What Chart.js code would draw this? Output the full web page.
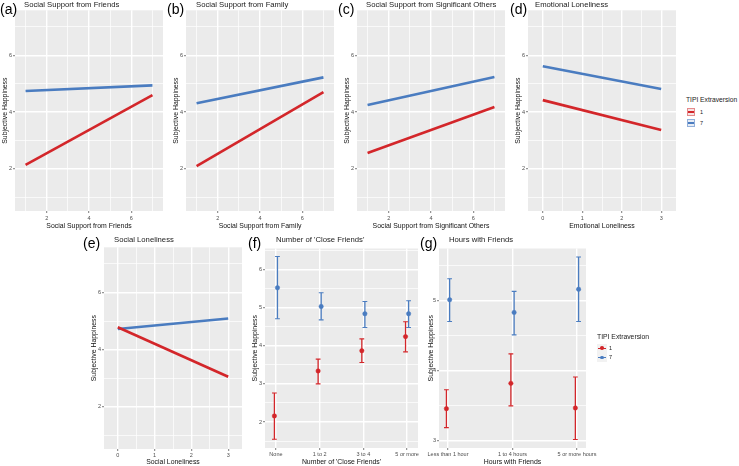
<!DOCTYPE html>
<html><head><meta charset="utf-8">
<script src="https://cdn.jsdelivr.net/npm/chart.js@4.4.0/dist/chart.umd.min.js"></script>
<style>
body{margin:0;width:739px;height:466px;background:#fff;position:relative;overflow:hidden;font-family:'Liberation Sans',Arial,sans-serif}
canvas{position:absolute}
.t{position:absolute;white-space:nowrap;color:#1a1a1a;line-height:1.2}
.k{position:absolute;box-sizing:border-box}
</style></head><body>
<script>
// ---------- DATA ----------
const extraversionLevels = ['1', '7'];
const topYTicks = [2, 4, 6];
const supportX = [1, 7];
const supportXTicks = [2, 4, 6];
const lonelyX = [0, 3];
const lonelyXTicks = [0, 1, 2, 3];

const friendsLow  = [2.14, 4.60];
const friendsHigh = [4.74, 4.94];
const familyLow   = [2.10, 4.70];
const familyHigh  = [4.31, 5.22];
const sigOtherLow = [2.56, 4.18];
const sigOtherHigh= [4.25, 5.23];
const emoLow      = [4.42, 3.37];
const emoHigh     = [5.61, 4.81];
const socLow      = [4.78, 3.05];
const socHigh     = [4.72, 5.09];

const closeCats = ['None', '1 to 2', '3 to 4', '5 or more'];
const closeYTicks = [2, 3, 4, 5, 6];
const closeLowMean = [2.16, 3.34, 3.87, 4.24];
const closeLowLo   = [1.55, 3.00, 3.56, 3.84];
const closeLowHi   = [2.76, 3.65, 4.18, 4.63];
const closeHighMean= [5.52, 5.03, 4.84, 4.84];
const closeHighLo  = [4.71, 4.68, 4.48, 4.48];
const closeHighHi  = [6.34, 5.39, 5.16, 5.18];

const hoursCats = ['Less than 1 hour', '1 to 4 hours', '5 or more hours'];
const hoursYTicks = [3, 4, 5];
const hoursLowMean = [3.46, 3.82, 3.47];
const hoursLowLo   = [3.19, 3.50, 3.02];
const hoursLowHi   = [3.73, 4.24, 3.91];
const hoursHighMean= [5.01, 4.83, 5.16];
const hoursHighLo  = [4.70, 4.51, 4.70];
const hoursHighHi  = [5.31, 5.13, 5.62];

// ---------- STYLE ----------
const C_RED = '#d3262a', C_BLUE = '#4a7cc0';
const FONT = "'Liberation Sans', Arial, sans-serif";
Chart.defaults.font.family = FONT;

const bgPlugin = {
  id: 'panelBg',
  beforeDraw(chart) {
    const a = chart.chartArea, c = chart.ctx;
    c.save(); c.fillStyle = '#ebebeb';
    c.fillRect(a.left, a.top, a.right - a.left, a.bottom - a.top);
    c.restore();
  }
};

function range(a, b, s) { const r = []; for (let v = a; v <= b + 1e-9; v += s) r.push(Math.round(v * 1000) / 1000); return r; }
const isIn = (arr, v) => arr.some(m => Math.abs(m - v) < 1e-6);

function axis(o) {
  return {
    type: 'linear', min: o.min, max: o.max,
    afterBuildTicks: s => { s.ticks = o.grid.map(v => ({ value: v })); },
    afterFit: s => { if (o.w !== undefined) s.width = o.w; if (o.h !== undefined) s.height = o.h; },
    ticks: {
      autoSkip: false, maxRotation: 0, minRotation: 0, padding: o.tickPad,
      font: { size: 5.5 }, color: '#4d4d4d',
      callback: v => isIn(o.major, v) ? o.label(v) : ''
    },
    grid: {
      drawTicks: true, tickLength: 2, tickWidth: 0.7,
      color: '#ffffff',
      lineWidth: ctx => isIn(o.major, ctx.tick.value) ? 1.4 : 0.7,
      tickColor: ctx => isIn(o.major, ctx.tick.value) ? '#444' : 'rgba(0,0,0,0)'
    },
    border: { display: false },
    title: { display: true, text: o.title, font: { size: 6.9 }, color: '#111', padding: o.titlePad }
  };
}

function panel(p) {
  const padTop = 4, padRight = p.padRight || 6;
  const [x0, y0, x1, y1] = p.area;
  const left = x0 - p.yW, top = y0 - padTop;
  const W = (x1 - x0) + p.yW + padRight, H = p.bottom - top;
  const cv = document.createElement('canvas');
  cv.width = W; cv.height = H;
  cv.style.left = left + 'px'; cv.style.top = top + 'px';
  cv.style.width = W + 'px'; cv.style.height = H + 'px';
  document.body.appendChild(cv);
  new Chart(cv, {
    type: 'line',
    data: { datasets: p.datasets },
    options: {
      responsive: false, animation: false, devicePixelRatio: 1,
      layout: { padding: { top: padTop, right: padRight, left: 0, bottom: 0 } },
      plugins: { legend: { display: false }, tooltip: { enabled: false } },
      scales: {
        x: axis({ min: p.xMin, max: p.xMax, grid: p.xGrid, major: p.xMajor, label: p.xLabel,
                  h: p.bottom - y1, tickPad: p.xTickPad, title: p.xTitle, titlePad: { top: 0, bottom: p.xTitleBottom } }),
        y: axis({ min: p.yMin, max: p.yMax, grid: p.yGrid, major: p.yMajor, label: v => String(v),
                  w: p.yW, tickPad: 1, title: p.yTitle, titlePad: { top: p.yTitleTop, bottom: 0 } })
      }
    },
    plugins: [bgPlugin]
  });
}

function lineSets(xs, low, high) {
  return [
    { label: extraversionLevels[0], data: xs.map((x, i) => ({ x, y: low[i] })), borderColor: C_RED, borderWidth: 2.6, pointRadius: 0, tension: 0 },
    { label: extraversionLevels[1], data: xs.map((x, i) => ({ x, y: high[i] })), borderColor: C_BLUE, borderWidth: 2.6, pointRadius: 0, tension: 0 }
  ];
}

function pointRangeSets(n, mean, lo, hi, color, dodge) {
  const bars = [];
  for (let i = 0; i < n; i++) {
    const x = i + 1 + dodge;
    bars.push({ x, y: lo[i] }, { x, y: hi[i] }, { x, y: null });
  }
  return [
    { data: bars, borderColor: color, borderWidth: 1.3, spanGaps: false, tension: 0,
      pointStyle: 'line', pointRadius: 2.4, pointBorderWidth: 1.1, pointBorderColor: color, pointHoverRadius: 0 },
    { data: mean.map((m, i) => ({ x: i + 1 + dodge, y: m })), showLine: false,
      pointStyle: 'circle', pointRadius: 2.2, pointBackgroundColor: color, pointBorderColor: color, pointBorderWidth: 0.5 }
  ];
}

// ---------- PANELS ----------
const topCommon = {
  yW: 15, yTitleTop: 0.8, bottom: 233, xTickPad: 2, xTitleBottom: 2.6,
  yMin: 0.52, yMax: 7.58, yGrid: range(1, 7, 1), yMajor: topYTicks, yTitle: 'Subjective Happiness'
};
const supportAxis = { xMin: 0.5, xMax: 7.5, xGrid: range(1, 7, 1), xMajor: supportXTicks, xLabel: v => String(v) };
const lonelyAxis = { xMin: -0.375, xMax: 3.375, xGrid: range(0, 3, 0.5), xMajor: lonelyXTicks, xLabel: v => String(v) };

panel(Object.assign({}, topCommon, supportAxis, { area: [15, 10, 163, 211], xTitle: 'Social Support from Friends', datasets: lineSets(supportX, friendsLow, friendsHigh) }));
panel(Object.assign({}, topCommon, supportAxis, { area: [186, 10, 334, 211], xTitle: 'Social Support from Family', datasets: lineSets(supportX, familyLow, familyHigh) }));
panel(Object.assign({}, topCommon, supportAxis, { area: [357, 10, 505, 211], xTitle: 'Social Support from Significant Others', datasets: lineSets(supportX, sigOtherLow, sigOtherHigh) }));
panel(Object.assign({}, topCommon, lonelyAxis, { area: [528, 10, 676, 211], xTitle: 'Emotional Loneliness', datasets: lineSets(lonelyX, emoLow, emoHigh) }));

panel(Object.assign({}, topCommon, lonelyAxis, { area: [104, 247, 242, 449], bottom: 466, xTickPad: 1, xTitleBottom: 0, xTitle: 'Social Loneliness', datasets: lineSets(lonelyX, socLow, socHigh) }));

panel({
  area: [265, 248, 418, 448], bottom: 466, yW: 15, yTitleTop: 0.8, xTickPad: 1, xTitleBottom: 0,
  xMin: 0.75, xMax: 4.25, xGrid: [1, 2, 3, 4], xMajor: [1, 2, 3, 4], xLabel: v => closeCats[v - 1],
  yMin: 1.32, yMax: 6.55, yGrid: range(1.5, 6.5, 0.5), yMajor: closeYTicks,
  xTitle: "Number of 'Close Friends'", yTitle: 'Subjective Happiness',
  datasets: pointRangeSets(4, closeLowMean, closeLowLo, closeLowHi, C_RED, -0.035)
    .concat(pointRangeSets(4, closeHighMean, closeHighLo, closeHighHi, C_BLUE, 0.035))
});

panel({
  area: [439, 248, 586, 448], bottom: 466, yW: 15, yTitleTop: 2.5, xTickPad: 1, xTitleBottom: 0, padRight: 14,
  xMin: 0.86, xMax: 3.14, xGrid: [1, 2, 3], xMajor: [1, 2, 3], xLabel: v => hoursCats[v - 1],
  yMin: 2.9, yMax: 5.74, yGrid: range(3, 5.5, 0.5), yMajor: hoursYTicks,
  xTitle: 'Hours with Friends', yTitle: 'Subjective Happiness',
  datasets: pointRangeSets(3, hoursLowMean, hoursLowLo, hoursLowHi, C_RED, -0.025)
    .concat(pointRangeSets(3, hoursHighMean, hoursHighLo, hoursHighHi, C_BLUE, 0.025))
});

// ---------- TEXT ----------
function txt(s, x, yc, size, color) {
  const d = document.createElement('div');
  d.className = 't'; d.textContent = s;
  d.style.left = x + 'px'; d.style.top = (yc - size * 0.6) + 'px';
  d.style.fontSize = size + 'px'; if (color) d.style.color = color;
  document.body.appendChild(d);
}
const panelTitles = [
  ['(a)', 0, 9, 'Social Support from Friends', 24, 5],
  ['(b)', 167, 9, 'Social Support from Family', 196, 5],
  ['(c)', 338, 9, 'Social Support from Significant Others', 366, 5],
  ['(d)', 510, 9, 'Emotional Loneliness', 535, 5],
  ['(e)', 83, 243, 'Social Loneliness', 114, 240],
  ['(f)', 248, 243, "Number of 'Close Friends'", 276, 240],
  ['(g)', 420, 243, 'Hours with Friends', 449, 240]
];
panelTitles.forEach(t => { txt(t[0], t[1], t[2], 14, '#000'); txt(t[3], t[4], t[5], 7.7); });

// top legend (line + ribbon keys)
txt('TIPI Extraversion', 686, 100, 6.7);
function ribbonKey(y, color, light, fill) {
  const b = document.createElement('div'); b.className = 'k';
  b.style.cssText += `left:687px;top:${y}px;width:8px;height:8px;border:1px solid ${light};background:${fill}`;
  const l = document.createElement('div'); l.className = 'k';
  l.style.cssText += `left:0;top:2px;width:6px;height:2.2px;background:${color}`;
  b.appendChild(l); document.body.appendChild(b);
}
ribbonKey(107.5, C_RED, '#e58a8c', '#f6e3e3');
ribbonKey(118.5, C_BLUE, '#93b0da', '#e6ecf5');
txt(extraversionLevels[0], 700, 112, 5.5);
txt(extraversionLevels[1], 700, 123, 5.5);

// bottom legend (pointrange keys)
txt('TIPI Extraversion', 597, 337, 6.8);
function prKey(yc, color) {
  const b = document.createElement('div'); b.className = 'k';
  b.style.cssText += `left:597px;top:${yc - 4.5}px;width:10px;height:9px;background:#f2f2f2`;
  const l = document.createElement('div'); l.className = 'k';
  l.style.cssText += `left:1px;top:4px;width:8px;height:1.2px;background:${color}`;
  const d = document.createElement('div'); d.className = 'k';
  d.style.cssText += `left:3.2px;top:2.8px;width:3.6px;height:3.6px;border-radius:50%;background:${color}`;
  b.appendChild(l); b.appendChild(d); document.body.appendChild(b);
}
prKey(348, C_RED); prKey(357.5, C_BLUE);
txt(extraversionLevels[0], 609, 348, 5.5);
txt(extraversionLevels[1], 609, 357.5, 5.5);
</script>
</body></html>
